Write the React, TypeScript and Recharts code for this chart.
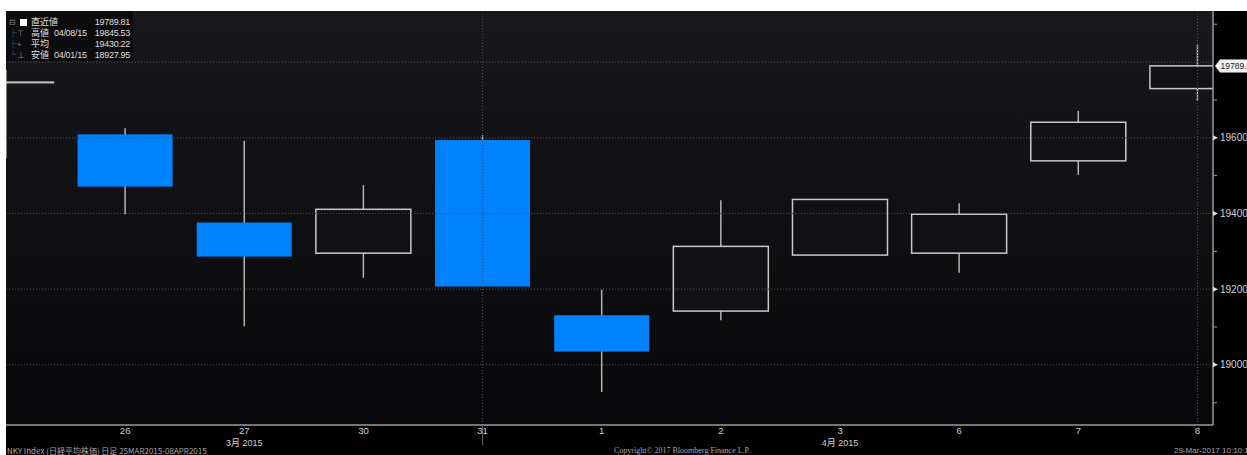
import React from "react";
import { ComposedChart, Bar, XAxis, YAxis, CartesianGrid, ReferenceLine } from "recharts";

const days = ["25", "26", "27", "30", "31", "1", "2", "3", "6", "7", "8"];
const opens = [19746, 19609, 19376, 19295, 19594, 19131, 19142, 19290, 19295, 19539, 19730];
const highs = [19779, 19625, 19592, 19475, 19607, 19198, 19435, 19437, 19427, 19671, 19846];
const lows = [19546, 19398, 19102, 19230, 19207, 18928, 19118, 19290, 19243, 19502, 19697];
const closes = [19747, 19471, 19286, 19411, 19207, 19035, 19313, 19437, 19398, 19641, 19790];
const monthLabels = ["", "", "3月 2015", "", "", "", "", "4月 2015", "", "", ""];

const labeledTicks = [19000, 19200, 19400, 19600];
const gridTicks = [19000, 19200, 19400, 19600, 19800];
const minorTicks = [18900, 19100, 19300, 19500, 19700, 19900];
const lastValue = 19789.81;
const lastLabel = "19789.8";
const weekLines = [4, 10];

const legendRows = [
  { glyph: "⊟", label: "直近値", date: "", value: "19789.81" },
  { glyph: "├⊤", label: "高値", date: "04/08/15", value: "19845.53" },
  { glyph: "├+", label: "平均", date: "", value: "19430.22" },
  { glyph: "└⊥", label: "安値", date: "04/01/15", value: "18927.95" },
];

const data = days.map((d, i) => ({
  idx: i,
  day: d,
  open: opens[i],
  high: highs[i],
  low: lows[i],
  close: closes[i],
  range: [lows[i], highs[i]],
}));

const Candle = (props: any) => {
  const { x, y, width, height, payload } = props;
  if (height == null || !payload) return null;
  const { open, close, high, low } = payload;
  const ratio = height / (high - low);
  const yOf = (v: number) => y + (high - v) * ratio;
  const cx = x + width / 2;
  const top = yOf(Math.max(open, close));
  const bot = yOf(Math.min(open, close));
  const down = close < open;
  return (
    <g>
      <line x1={cx} x2={cx} y1={yOf(high)} y2={yOf(low)} stroke="#b4b4b4" strokeWidth={1.5} />
      {down ? (
        <rect x={x} y={top} width={width} height={Math.max(bot - top, 1)} fill="#0082ff" />
      ) : (
        <rect x={x} y={top} width={width} height={Math.max(bot - top, 0.5)} fill="#111115" stroke="#c8c8c8" strokeWidth={1.5} />
      )}
    </g>
  );
};

const XTick = (props: any) => {
  const { x, y, payload } = props;
  const i = payload.value;
  return (
    <g>
      {i === 4 && <line x1={x} x2={x} y1={y} y2={y + 20} stroke="#666" strokeWidth={1} />}
      <text x={x} y={y + 9} textAnchor="middle" fill="#cfcfcf" fontSize={9.5} fontFamily="Liberation Sans, Arial">
        {days[i]}
      </text>
      {monthLabels[i] && (
        <text x={x} y={y + 21} textAnchor="middle" fill="#cfcfcf" fontSize={9} fontFamily="Liberation Sans, Noto Sans CJK JP">
          {monthLabels[i]}
        </text>
      )}
    </g>
  );
};

const YTick = (props: any) => {
  const { x, y, payload } = props;
  const v = payload.value;
  if (v === lastValue) {
    return (
      <g>
        <polygon
          points={`${x + 2},${y} ${x + 7},${y - 6.5} ${x + 40},${y - 6.5} ${x + 40},${y + 6.5} ${x + 7},${y + 6.5}`}
          fill="#f4f4f4"
          stroke="#888"
          strokeWidth={0.5}
        />
        <text x={x + 7.5} y={y + 3} fill="#222" fontSize={8.5} fontFamily="Liberation Sans, Arial">
          {lastLabel}
        </text>
      </g>
    );
  }
  if (minorTicks.includes(v)) {
    return <line x1={x} x2={x + 4} y1={y} y2={y} stroke="#999" strokeWidth={1} />;
  }
  if (!labeledTicks.includes(v)) return <g />;
  return (
    <g>
      <polygon points={`${x},${y - 2.5} ${x + 5},${y} ${x},${y + 2.5}`} fill="#ddd" />
      <text x={x + 7} y={y + 3.5} fill="#cfcfcf" fontSize={10} fontFamily="Liberation Sans, Arial">
        {v}
      </text>
    </g>
  );
};

export default function App() {
  return (
    <div style={{ position: "absolute", left: 0, top: 0, width: 1247, height: 455, background: "#fff", overflow: "hidden" }}>
      <div style={{ position: "absolute", left: 6, top: 11, width: 1241, height: 444, background: "#000", overflow: "hidden" }}>
        <ComposedChart
          width={1241}
          height={444}
          data={data}
          margin={{ top: 0, right: 0, bottom: 0, left: 0 }}
        >
          <defs>
            <linearGradient id="bgGrad" x1="0" y1="0" x2="0" y2="1">
              <stop offset="0%" stopColor="#18181d" />
              <stop offset="100%" stopColor="#08080a" />
            </linearGradient>
          </defs>
          <CartesianGrid horizontal={false} vertical={false} fill="url(#bgGrad)" fillOpacity={1} />
          <XAxis
            dataKey="idx"
            type="number"
            domain={[0, 10.13]}
            allowDataOverflow
            ticks={[1, 2, 3, 4, 5, 6, 7, 8, 9, 10]}
            height={30}
            axisLine={{ stroke: "#9a9a9a", strokeWidth: 1.5 }}
            tickLine={false}
            tickSize={0}
            tickMargin={0}
            tick={<XTick />}
            interval={0}
          />
          <YAxis
            orientation="right"
            type="number"
            domain={[18841, 19935]}
            allowDataOverflow
            ticks={[...minorTicks, ...gridTicks, lastValue].sort((a, b) => a - b)}
            width={34}
            axisLine={{ stroke: "#9a9a9a", strokeWidth: 1.5 }}
            tickLine={false}
            tickSize={0}
            tickMargin={0}
            tick={<YTick />}
            interval={0}
          />
          {gridTicks.map((t) => (
            <ReferenceLine key={"h" + t} y={t} stroke="#4e4e52" strokeDasharray="1 2" strokeWidth={1} />
          ))}
          {weekLines.map((t) => (
            <ReferenceLine key={"v" + t} x={t} stroke="#4e4e52" strokeDasharray="1 2" strokeWidth={1} />
          ))}
          <Bar dataKey="range" barSize={95} shape={<Candle />} isAnimationActive={false} />
        </ComposedChart>

        <div
          style={{
            position: "absolute",
            left: 0,
            top: 0,
            width: 127,
            height: 50,
            background: "#0c0c0f",
            fontFamily: "Noto Sans CJK JP, Liberation Sans",
            fontSize: 9,
            color: "#dedede",
            lineHeight: "10px",
          }}
        >
          {legendRows.map((r, i) => (
            <div key={i} style={{ position: "absolute", top: 6 + i * 11, left: 0, width: 127, height: 10, whiteSpace: "nowrap" }}>
              <span style={{ position: "absolute", left: 3, color: "#888", fontSize: 8 }}>{r.glyph}</span>
              {i === 0 && <span style={{ position: "absolute", left: 14, top: 2, width: 7, height: 7, background: "#fff" }} />}
              <span style={{ position: "absolute", left: 25 }}>{r.label}</span>
              {r.date && (
                <span style={{ position: "absolute", left: 48, fontFamily: "Liberation Sans, Arial", fontSize: 9, letterSpacing: -0.3 }}>
                  {r.date}
                </span>
              )}
              <span style={{ position: "absolute", right: 3, fontFamily: "Liberation Sans, Arial", fontSize: 9, letterSpacing: -0.3 }}>
                {r.value}
              </span>
            </div>
          ))}
        </div>

        <div style={{ position: "absolute", left: 1, top: 435, fontSize: 8, color: "#a8a8a8", fontFamily: "Noto Sans CJK JP, Liberation Sans", whiteSpace: "nowrap", lineHeight: "10px" }}>
          NKY Index (日経平均株価) 日足 25MAR2015-08APR2015
        </div>
        <div style={{ position: "absolute", left: 608, top: 435, fontSize: 8, color: "#a8a8a8", fontFamily: "Liberation Serif, serif", whiteSpace: "nowrap", lineHeight: "10px" }}>
          Copyright© 2017 Bloomberg Finance L.P.
        </div>
        <div style={{ position: "absolute", left: 1168, top: 435, fontSize: 8, color: "#a8a8a8", fontFamily: "Liberation Sans, Arial", whiteSpace: "nowrap", lineHeight: "10px" }}>
          29-Mar-2017 10:10:19
        </div>
      </div>
    </div>
  );
}
